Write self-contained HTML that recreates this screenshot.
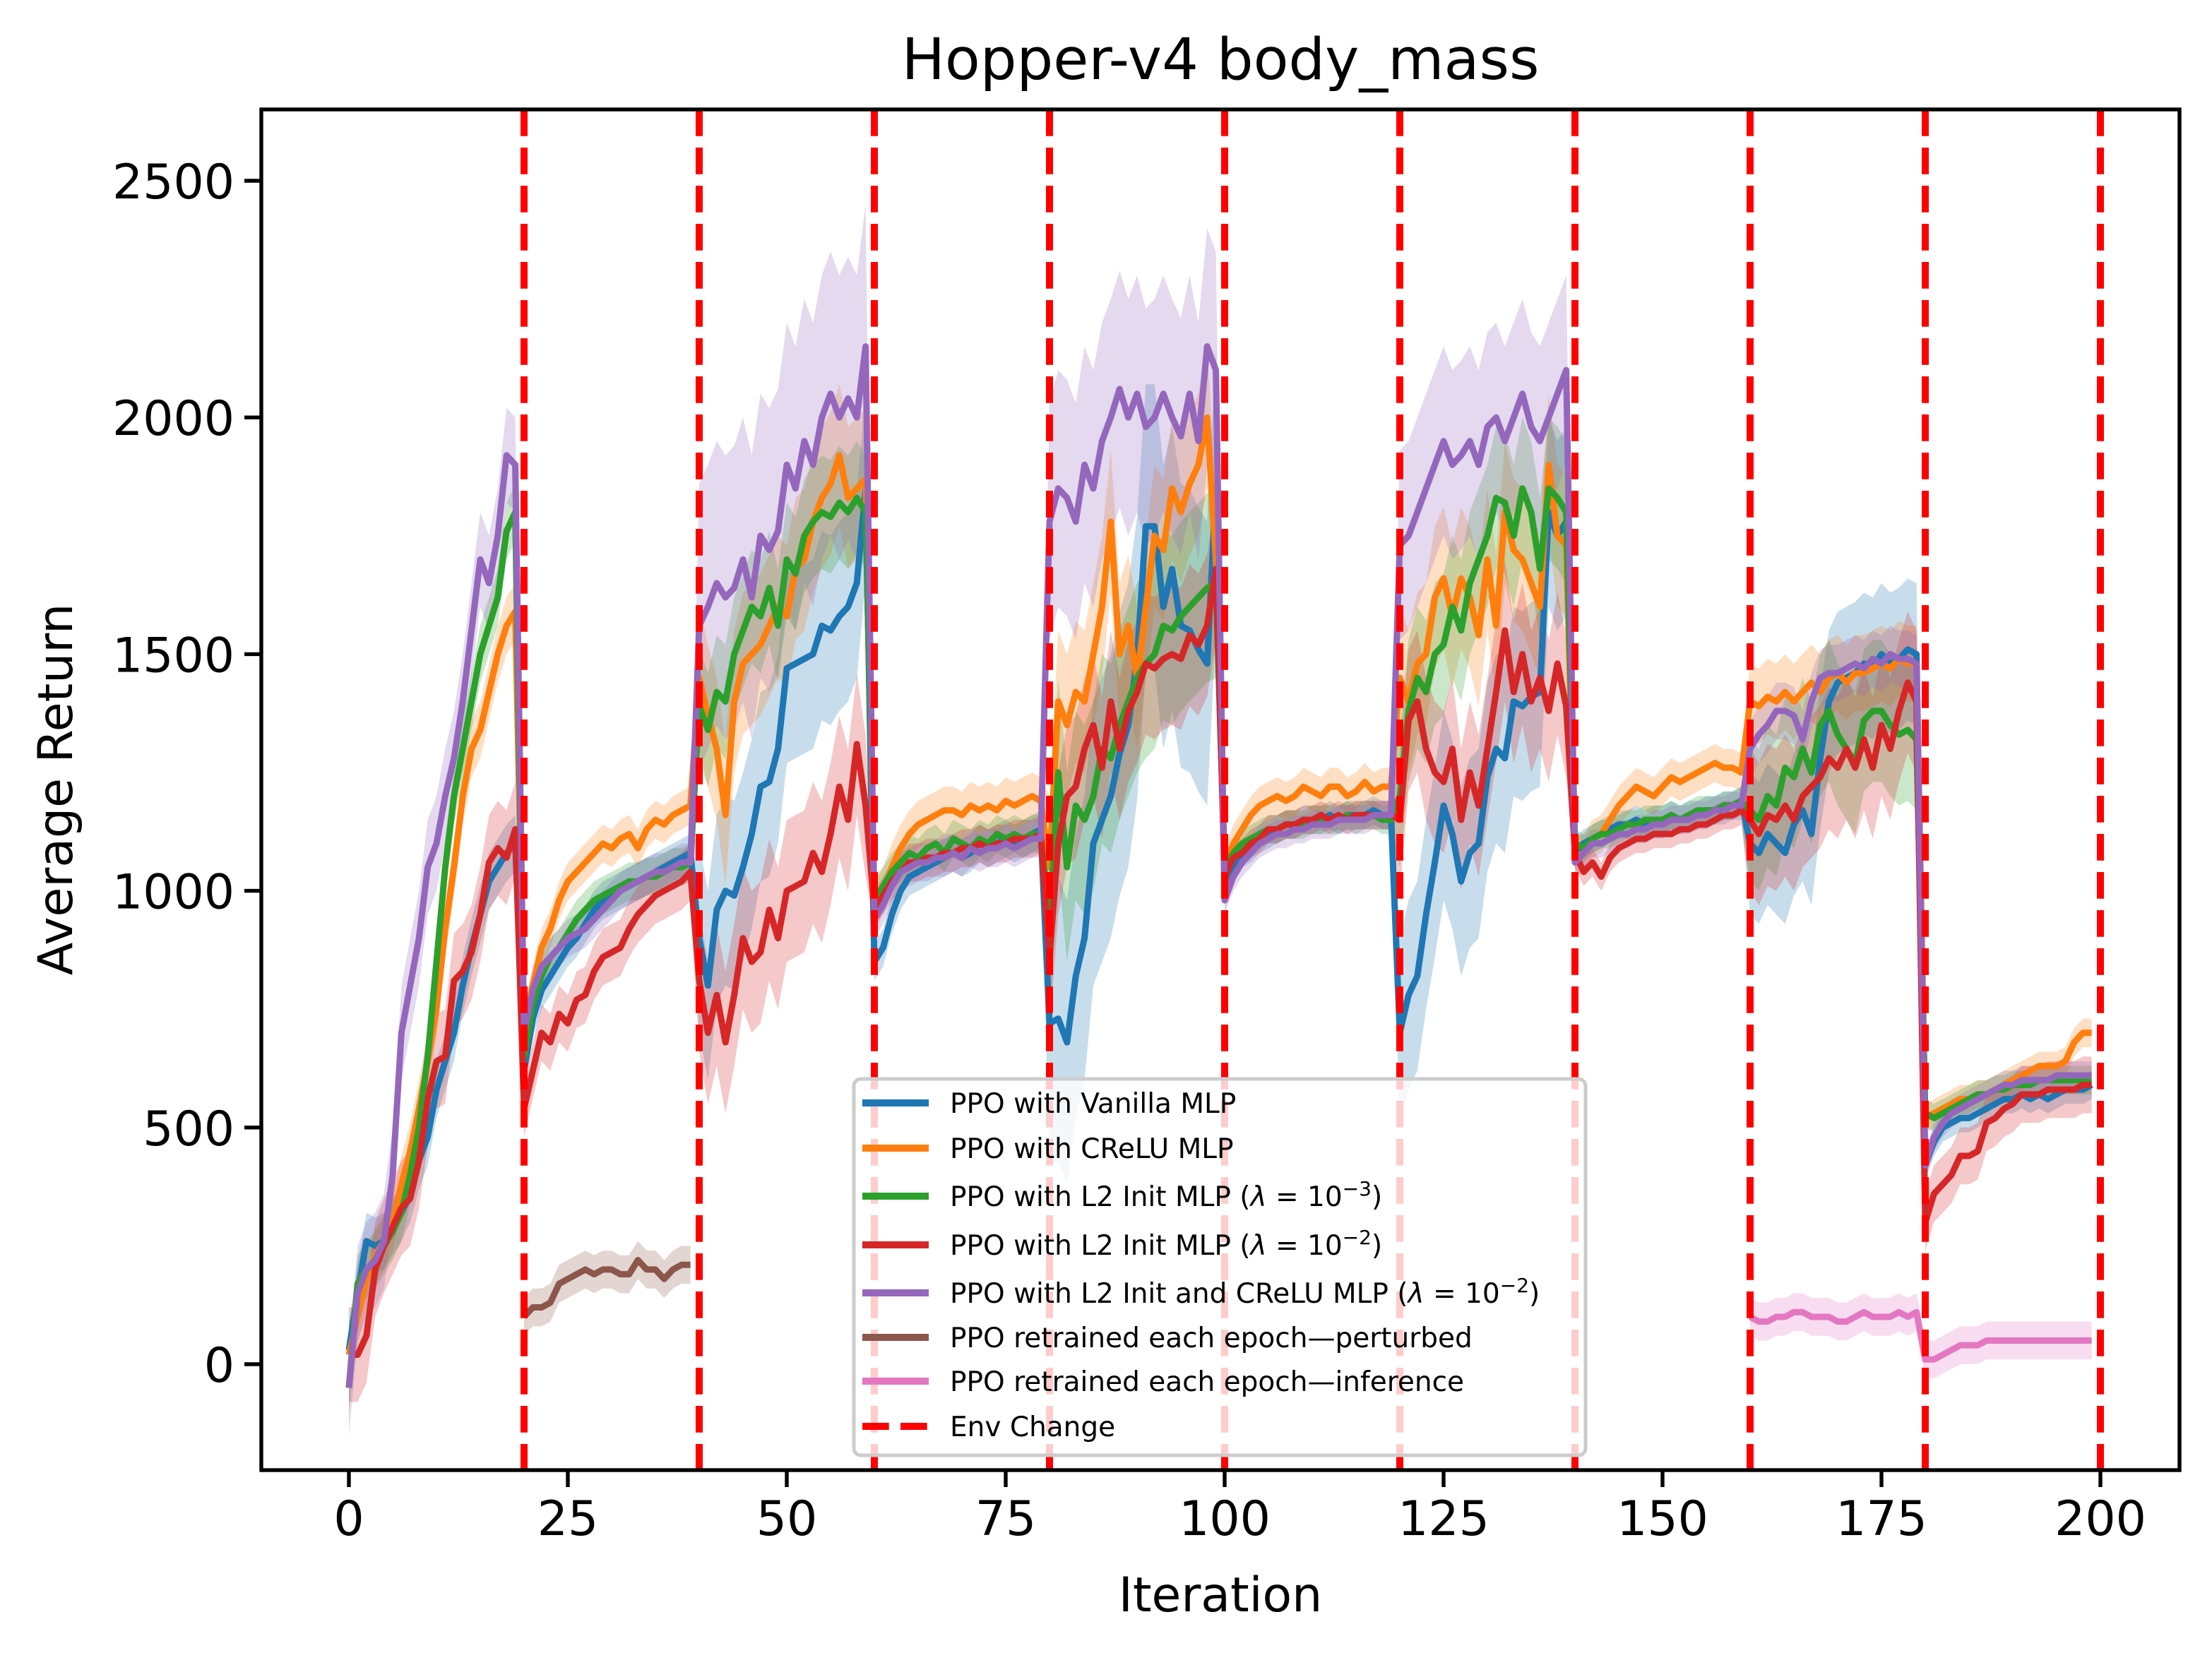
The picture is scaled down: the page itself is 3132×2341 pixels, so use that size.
<!DOCTYPE html>
<html><head><meta charset="utf-8"><style>
html,body{margin:0;padding:0;background:#fff;}
svg{display:block;font-family:"DejaVu Sans","Liberation Sans",sans-serif;}
</style></head><body>
<svg id="chart" width="3132" height="2341" viewBox="0 0 3132 2341" xmlns="http://www.w3.org/2000/svg">
<rect width="3132" height="2341" fill="#fff"/>
<g id="plot"></g>
</svg>
<script>
const xTicks = [0,25,50,75,100,125,150,175,200];
const yTicks = [0,500,1000,1500,2000,2500];
const envChanges = [20,40,60,80,100,120,140,160,180,200];
const vanilla = [30,150,260,250,260,290,320,360,430,480,580,640,700,800,880,950,1020,1050,1080,1100,
620,730,790,820,850,880,900,930,960,980,990,1000,1010,1020,1030,1040,1050,1060,1070,1080,
900,800,960,1000,990,1050,1120,1220,1230,1300,1470,1480,1490,1500,1560,1550,1580,1600,1650,1850,
850,880,950,1000,1030,1040,1050,1060,1070,1080,1070,1080,1100,1090,1100,1110,1100,1110,1120,1130,
720,730,680,820,900,1100,1150,1200,1290,1350,1490,1770,1770,1600,1680,1560,1550,1510,1480,1850,
1000,1050,1080,1090,1110,1120,1130,1140,1140,1150,1150,1150,1160,1150,1160,1160,1160,1170,1160,1160,
700,780,820,950,1060,1180,1120,1020,1080,1100,1240,1300,1280,1400,1390,1410,1420,1800,1750,1780,
1080,1100,1110,1120,1130,1140,1140,1150,1140,1150,1150,1160,1150,1160,1160,1170,1170,1180,1180,1190,
1100,1080,1120,1100,1080,1140,1170,1120,1280,1400,1440,1450,1460,1480,1470,1500,1480,1490,1510,1500,
420,470,500,510,520,520,530,540,550,560,560,570,560,570,560,570,580,580,580,590];
const crelu = [20,100,180,230,260,300,380,450,540,640,750,920,1050,1200,1300,1340,1420,1500,1560,1590,
720,800,880,920,980,1020,1040,1060,1080,1100,1090,1110,1120,1090,1130,1150,1140,1160,1170,1180,
1450,1370,1300,1160,1400,1480,1500,1520,1560,1600,1580,1680,1700,1780,1830,1860,1920,1830,1850,1870,
980,1000,1050,1090,1120,1140,1150,1160,1170,1170,1160,1180,1170,1180,1170,1190,1180,1190,1200,1190,
1050,1400,1350,1420,1400,1500,1600,1780,1500,1560,1450,1600,1750,1720,1850,1800,1860,1900,2000,1700,
1050,1100,1130,1160,1180,1190,1200,1190,1200,1220,1210,1200,1220,1220,1200,1210,1230,1210,1220,1220,
1450,1400,1480,1500,1620,1660,1580,1660,1620,1540,1700,1560,1800,1720,1700,1650,1600,1900,1750,1730,
1070,1080,1110,1120,1150,1180,1200,1220,1210,1200,1220,1240,1230,1240,1250,1260,1270,1260,1260,1250,
1400,1390,1410,1400,1420,1400,1420,1440,1420,1450,1460,1440,1460,1460,1470,1480,1470,1490,1480,1480,
520,530,540,550,560,560,570,570,580,590,600,610,620,630,630,630,640,680,700,700];
const l2e3 = [-50,170,200,220,250,280,320,400,500,650,850,1050,1200,1300,1400,1500,1560,1620,1760,1800,
650,760,820,860,880,910,940,960,980,990,1000,1010,1020,1020,1030,1030,1040,1050,1050,1060,
1390,1340,1420,1400,1500,1550,1600,1580,1640,1560,1700,1670,1750,1780,1800,1790,1820,1800,1830,1800,
980,1010,1040,1060,1080,1070,1090,1100,1080,1110,1100,1090,1110,1100,1120,1110,1120,1110,1120,1120,
920,1250,1050,1180,1150,1200,1300,1280,1350,1400,1450,1480,1500,1560,1550,1580,1600,1620,1640,1650,
1050,1080,1100,1110,1120,1130,1130,1140,1140,1140,1150,1150,1150,1150,1160,1150,1160,1160,1150,1150,
1200,1380,1450,1420,1500,1520,1600,1550,1650,1700,1750,1830,1820,1750,1850,1800,1680,1850,1830,1800,
1100,1090,1110,1120,1120,1130,1140,1140,1150,1150,1150,1160,1150,1160,1170,1170,1170,1180,1180,1190,
1170,1150,1200,1180,1260,1240,1300,1250,1350,1380,1330,1300,1270,1360,1380,1380,1350,1330,1340,1320,
530,520,530,540,550,560,570,570,580,580,590,590,590,600,600,600,600,600,600,600];
const l2e2 = [20,20,60,200,250,290,330,350,430,560,640,650,810,830,870,950,1060,1090,1070,1130,
540,620,700,680,740,720,770,780,830,860,870,880,920,950,970,990,1000,1010,1020,1040,
810,700,780,680,780,900,850,870,960,900,1000,1010,1020,1080,1040,1120,1220,1150,1310,1180,
960,990,1020,1040,1060,1060,1070,1070,1080,1080,1090,1090,1100,1090,1100,1100,1110,1110,1110,1120,
860,1100,1200,1220,1300,1350,1260,1400,1300,1380,1420,1480,1470,1490,1500,1490,1540,1520,1560,1680,
1030,1070,1080,1100,1110,1130,1130,1140,1140,1150,1150,1160,1150,1160,1150,1160,1160,1160,1160,1160,
1150,1360,1400,1300,1250,1230,1300,1150,1250,1180,1300,1420,1550,1420,1500,1400,1450,1380,1480,1390,
1080,1040,1060,1030,1070,1090,1100,1110,1110,1120,1120,1120,1130,1130,1140,1140,1150,1160,1160,1170,
1150,1120,1160,1150,1180,1150,1200,1220,1240,1280,1260,1300,1260,1320,1260,1350,1300,1380,1440,1400,
300,360,380,400,440,440,450,510,520,540,550,570,570,570,580,580,580,580,590,590];
const l2crelu = [-50,150,200,220,260,400,700,800,900,1050,1100,1200,1280,1400,1550,1700,1650,1750,1920,1900,
700,790,840,860,880,900,910,920,940,960,980,1000,1010,1020,1030,1040,1040,1050,1060,1060,
1560,1600,1650,1620,1640,1700,1620,1750,1720,1760,1900,1850,1950,1900,2000,2050,2000,2040,2000,2150,
940,970,1010,1040,1050,1060,1060,1070,1070,1080,1070,1090,1080,1090,1090,1100,1090,1100,1110,1110,
1780,1850,1830,1780,1900,1850,1950,2000,2060,2000,2050,1980,2000,2050,2000,1960,2050,1950,2150,2100,
980,1030,1060,1080,1100,1110,1120,1120,1130,1130,1140,1140,1140,1150,1150,1150,1150,1160,1160,1160,
1730,1750,1800,1850,1900,1950,1900,1920,1950,1900,1980,2000,1950,2000,2050,1980,1950,2000,2050,2100,
1060,1080,1100,1100,1110,1120,1120,1130,1130,1140,1140,1150,1150,1150,1160,1160,1170,1170,1180,1180,
1300,1330,1350,1380,1380,1370,1320,1400,1450,1460,1460,1470,1480,1470,1490,1480,1500,1490,1490,1480,
420,480,510,530,540,550,560,570,580,590,590,600,600,600,600,610,610,610,610,610];
const perturbedStart = 20;
const perturbed = [100,120,120,130,170,180,190,200,190,200,200,190,190,220,200,200,180,200,210,210];
const inferenceStart = 160;
const inference = [100,90,90,100,100,110,110,100,100,100,90,90,100,110,100,100,100,110,100,110,
10,10,20,30,40,40,40,50,50,50,50,50,50,50,50,50,50,50,50,50];
const vanillaStd = [60,40,200,40,300,30,200,30,150,30];
const creluStd = [60,40,150,50,150,40,150,40,80,30];
const l2e3Std = [60,40,120,40,200,30,150,30,150,30];
const l2e2Std = [100,60,150,40,150,30,150,30,150,60];
const l2creluStd = [100,40,300,40,250,30,200,30,60,30];
const perturbedStd = 40;
const inferenceStd = 40;

const NS='http://www.w3.org/2000/svg';
const L=370,R=3086,T=155,B=2082;
const X=v=>494+(v-0)*(2974-494)/200;
const Y=v=>1932-(v-0)*(1932-256)/2500;
const g=document.getElementById('plot');
function mk(tag,attrs,parent){const e=document.createElementNS(NS,tag);for(const k in attrs)e.setAttribute(k,attrs[k]);(parent||g).appendChild(e);return e;}

const series=[
 {n:'vanilla',d:vanilla,s:vanillaStd,c:'#1f77b4'},
 {n:'crelu',d:crelu,s:creluStd,c:'#ff7f0e'},
 {n:'l2-1e-3',d:l2e3,s:l2e3Std,c:'#2ca02c'},
 {n:'l2-1e-2',d:l2e2,s:l2e2Std,c:'#d62728'},
 {n:'l2-crelu',d:l2crelu,s:l2creluStd,c:'#9467bd'}];
function band(vals,start,stdFn,color,name){
 let up=[],dn=[];
 vals.forEach((v,i)=>{const sd=stdFn(i);up.push(X(start+i)+','+Y(v+sd));dn.unshift(X(start+i)+','+Y(v-sd));});
 const p=mk('polygon',{points:up.concat(dn).join(' '),fill:color,'fill-opacity':0.25,stroke:'none'});
 
 
}
function line(vals,start,color,name){
 const pts=vals.map((v,i)=>X(start+i)+','+Y(v)).join(' ');
 const p=mk('polyline',{points:pts,fill:'none',stroke:color,'stroke-width':9,'stroke-linejoin':'round','stroke-linecap':'butt'});
 
 
}
const clip=mk('clipPath',{id:'cp'});mk('rect',{x:L,y:T,width:R-L,height:B-T},clip);
const inner=mk('g',{'clip-path':'url(#cp)'});
series.forEach(s=>{
 band(s.d,0,i=>s.s[Math.floor(i/20)],s.c,s.n+'-band');
});
band(perturbed,perturbedStart,()=>perturbedStd,'#8c564b','perturbed-band');
band(inference,inferenceStart,()=>inferenceStd,'#e377c2','inference-band');
series.forEach(s=>line(s.d,0,s.c,s.n+'-line'));
line(perturbed,perturbedStart,'#8c564b','perturbed-line');
line(inference,inferenceStart,'#e377c2','inference-line');
Array.from(g.children).forEach(c=>{if(c!==inner&&c.tagName!=='clipPath')inner.appendChild(c);});
envChanges.forEach(v=>{
 const l=mk('line',{x1:X(v),x2:X(v),y1:T,y2:B,stroke:'#ff0000','stroke-width':10,'stroke-dasharray':'37.7,16.3'},inner);
 
 
});
const fr=mk('rect',{x:L,y:T,width:R-L,height:B-T,fill:'none',stroke:'#000','stroke-width':5.4});


xTicks.forEach(v=>{
 const t=mk('line',{x1:X(v),x2:X(v),y1:B,y2:B+24,stroke:'#000','stroke-width':5.4});
 
 
 const tx=mk('text',{x:X(v),y:B+92,'font-size':68,'text-anchor':'middle',fill:'#000'});
 tx.textContent=v;
 
 
});
yTicks.forEach(v=>{
 const t=mk('line',{x1:L-24,x2:L,y1:Y(v),y2:Y(v),stroke:'#000','stroke-width':5.4});
 
 
 const tx=mk('text',{x:L-38,y:Y(v)+25,'font-size':68,'text-anchor':'end',fill:'#000'});
 tx.textContent=v;
 
 
});
</script>
<script>
(function(){
const NS='http://www.w3.org/2000/svg';
const svg=document.getElementById('chart');
function mk(tag,attrs,parent){const e=document.createElementNS(NS,tag);for(const k in attrs)e.setAttribute(k,attrs[k]);(parent||svg).appendChild(e);return e;}
const title=mk('text',{x:1728,y:112,'font-size':81.5,'text-anchor':'middle'});
title.textContent='Hopper-v4 body_mass';


const xl=mk('text',{x:1728,y:2282,'font-size':68,'text-anchor':'middle'});
xl.textContent='Iteration';


const yl=mk('text',{x:0,y:0,'font-size':68,'text-anchor':'middle',transform:'translate(102,1118) rotate(-90)'});
yl.textContent='Average Return';


const lg=mk('g',{});


mk('rect',{x:1209,y:1528,width:1036,height:533,rx:10,fill:'#fff','fill-opacity':0.8,stroke:'#cccccc','stroke-width':5},lg);
const entries=[
 ['#1f77b4','PPO with Vanilla MLP',null,1562],
 ['#ff7f0e','PPO with CReLU MLP',null,1626],
 ['#2ca02c','PPO with L2 Init MLP (',['\u22123'],1694],
 ['#d62728','PPO with L2 Init MLP (',['\u22122'],1763],
 ['#9467bd','PPO with L2 Init and CReLU MLP (',['\u22122'],1831],
 ['#8c564b','PPO retrained each epoch\u2014perturbed',null,1894],
 ['#e377c2','PPO retrained each epoch\u2014inference',null,1956],
 ['#ff0000','Env Change',null,2020]];
entries.forEach((e,i)=>{
 const ln=mk('line',{x1:1221,x2:1315,y1:e[3],y2:e[3],stroke:e[0],'stroke-width':10,'stroke-dasharray':i===7?'37.7,16.3':'none'},lg);
 
 
 const t=mk('text',{x:1345,y:e[3]+14,'font-size':39},lg);
 
 
 const a=document.createElementNS(NS,'tspan');a.textContent=e[1];t.appendChild(a);
 if(e[2]){
  const b=document.createElementNS(NS,'tspan');b.setAttribute('font-style','italic');b.textContent='\u03bb';t.appendChild(b);
  const b2=document.createElementNS(NS,'tspan');b2.textContent=' = 10';t.appendChild(b2);
  const c=document.createElementNS(NS,'tspan');c.setAttribute('dy','-15');c.setAttribute('font-size','28');c.textContent=e[2][0];t.appendChild(c);
  const d=document.createElementNS(NS,'tspan');d.setAttribute('dy','15');d.textContent=')';t.appendChild(d);
 }
});
})();
</script>
</body></html>
